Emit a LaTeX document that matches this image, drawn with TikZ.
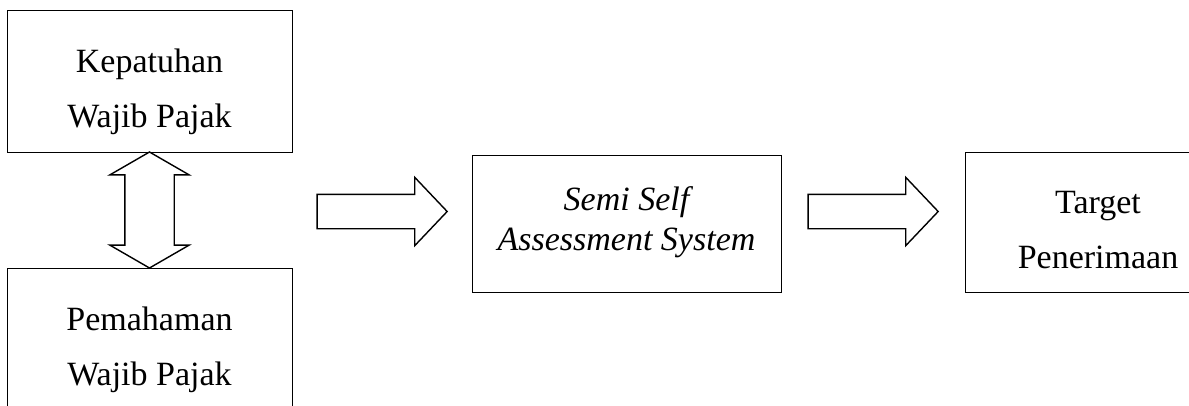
\documentclass[tikz,border=0pt]{standalone}
\usepackage{fontspec}
\setmainfont{Liberation Serif}
\usetikzlibrary{shapes.arrows}
\tikzset{line width=1.8pt,
  box/.style={draw,rectangle,inner sep=0pt,align=center,
    font=\fontsize{34}{55}\selectfont,text height=100pt,text depth=7pt},
  fatarrow/.style={draw,single arrow,line width=1.4pt,inner xsep=0pt,
    inner ysep=16.5pt,minimum height=130pt,single arrow head extend=17pt,
    single arrow tip angle=93},
  dblarrow/.style={draw,double arrow,line width=1.4pt,inner xsep=0pt,
    inner ysep=24pt,minimum height=116pt,double arrow head extend=15pt,
    double arrow tip angle=120,rotate=90}}

\begin{document}
\begin{tikzpicture}[x=1pt,y=-1pt]
  \def\boxw{285pt}
  \def\boxh{142pt}
  \useasboundingbox[fill=white] (0,0) rectangle (1189,405);

  % left column
  \node[box,minimum width=\boxw,minimum height=\boxh]
    (kepatuhan) at (149.5,81) {Kepatuhan\\Wajib Pajak};
  \node[box,minimum width=\boxw,minimum height=\boxh]
    (pemahaman) at (149.5,339) {Pemahaman\\Wajib Pajak};
  \node[dblarrow] (dbl) at (149.5,210) {};

  % system
  \node[box,minimum width=309pt,minimum height=137pt,
    font=\fontsize{34}{40}\selectfont\itshape,text height=60pt,text depth=7pt]
    (semiself) at (626.5,223.5) {Semi Self\\Assessment System};
  \node[fatarrow] (arrA) at (374,211.5) {};

  % target
  \node[box,minimum width=266pt,minimum height=140pt]
    (target) at (1098,222) {Target\\Penerimaan};
  \node[fatarrow] (arrB) at (865,211.5) {};
\end{tikzpicture}
\end{document}
